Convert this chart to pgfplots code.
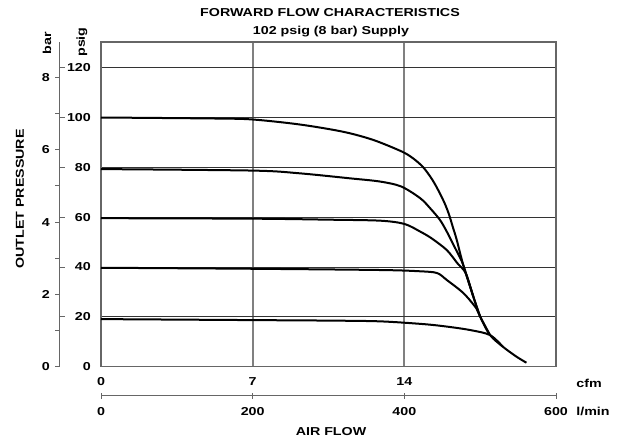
\documentclass[border=0pt]{standalone}
\usepackage{pgfplots}
\pgfplotsset{compat=1.18}
\usepackage{fontspec}
\setmainfont{Liberation Sans}[FakeStretch=1.24]
\begin{document}
\begin{tikzpicture}[font=\fontsize{11.5bp}{13bp}\selectfont\bfseries]
\path[use as bounding box] (-101bp,-77.3bp) rectangle (525bp,366.7bp);
% bar axis
\begin{axis}[
 at={(-41bp,0)}, anchor=south west, scale only axis,
 width=20bp, height=324.7bp,
 xmin=0,xmax=1, ymin=0, ymax=8.984,
 hide x axis, axis y line=left,
 axis line style={-, black!60, line width=1bp},
 ytick={0,...,8}, yticklabels={0,,2,,4,,6,,8},
 tick align=outside, major tick length=4.5bp,
 tick style={black!60, line width=1bp},
 extra y ticks={1.3789,2.7578,4.1367,5.5156,6.8945,8.2734},
 extra y tick labels={,,,,,},
 extra y tick style={tick align=inside, major tick length=5bp},
 yticklabel style={inner sep=0pt, anchor=east, xshift=-5.5bp},
]
\addplot[draw=none] coordinates {(0,0)};
\end{axis}
% l/min axis
\begin{axis}[
 at={(0,-29bp)}, anchor=south west, scale only axis,
 width=455bp, height=10bp,
 xmin=0,xmax=600, ymin=0,ymax=1,
 hide y axis, axis x line=bottom,
 axis line style={-, black!60, line width=1bp},
 xtick={0,200,400,600},
 tick align=center, major tick length=6bp,
 tick style={black!60, line width=1bp},
 xticklabel style={inner sep=0pt, anchor=north, yshift=-8.5bp},
 /pgf/number format/assume math mode=true,
]
\addplot[draw=none] coordinates {(0,0)};
\end{axis}
% main axis
\begin{axis}[
 at={(0,0)}, anchor=south west, scale only axis,
 width=455bp, height=324.7bp,
 xmin=0, xmax=600, ymin=0, ymax=130.3,
 xtick={0,200,400}, xticklabels={0,7,14},
 ytick={0,20,...,120},
 /pgf/number format/assume math mode=true,
 major tick length=0pt,
 xmajorgrids, ymajorgrids,
 x grid style={black!50, line width=1.8bp},
 y grid style={black!80, line width=0.9bp},
 axis line style={black!60, line width=1.5bp},
 xticklabel style={inner sep=0pt, anchor=north, yshift=-11bp},
 yticklabel style={inner sep=0pt, anchor=east, xshift=-10bp},
 clip=false,
]
\addplot[black, line width=2bp, smooth, tension=0.5] coordinates {
(0,100) (150,99.6) (200,99.2) (262,97.2) (319,94.3) (359,91) (397,86.3) (412,83.5) (425,80) (437,75) (447,69.5) (454,65) (459,61) (464,56) (469,51) (478,40.5) (491,28.1) (500,20.1) (513,12.7) (530,8) (548,4) (561,1.6)};
\addplot[black, line width=2bp, smooth, tension=0.5] coordinates {
(0,79.3) (200,78.7) (262,77.6) (328,75.6) (368,74.3) (396,72.3) (421,67.6) (434,63.6) (447,58.9) (456,54.2) (465,48.8) (473,44) (478,40.5) (491,28.1)};
\addplot[black, line width=2bp, smooth, tension=0.5] coordinates {
(0,59.6) (200,59.4) (300,59.0) (368,58.6) (400,57.3) (421,54.2) (436,51.5) (456,46.8) (470,41.5) (481,37.5) (491,28.1) (500,20.1)};
\addplot[black, line width=2bp, smooth, tension=0.5] coordinates {
(0,39.7) (200,39.3) (368,38.8) (420,38.3) (443,37.6) (456,34.8) (478,29.5) (495,23.4) (500,20.1) (513,12.7)};
\addplot[black, line width=2bp, smooth, tension=0.5] coordinates {
(0,19.1) (200,18.7) (300,18.5) (368,18.2) (425,17.1) (456,16.1) (487,14.7) (513,12.7) (530,8)};
\end{axis}
\node[rotate=90] at (-54bp,323.7bp) {bar};
\node[rotate=90] at (-19bp,324.7bp) {psig};
\node[rotate=90] at (-81bp,167.7bp) {OUTLET PRESSURE};
\node at (229bp,354.2bp) {FORWARD FLOW CHARACTERISTICS};
\node at (230bp,334.7bp) {102 psig (8 bar) Supply};
\node at (488bp,-16.3bp) {cfm};
\node at (492bp,-45bp) {l/min};
\node at (230bp,-65.3bp) {AIR FLOW};
\end{tikzpicture}
\end{document}
